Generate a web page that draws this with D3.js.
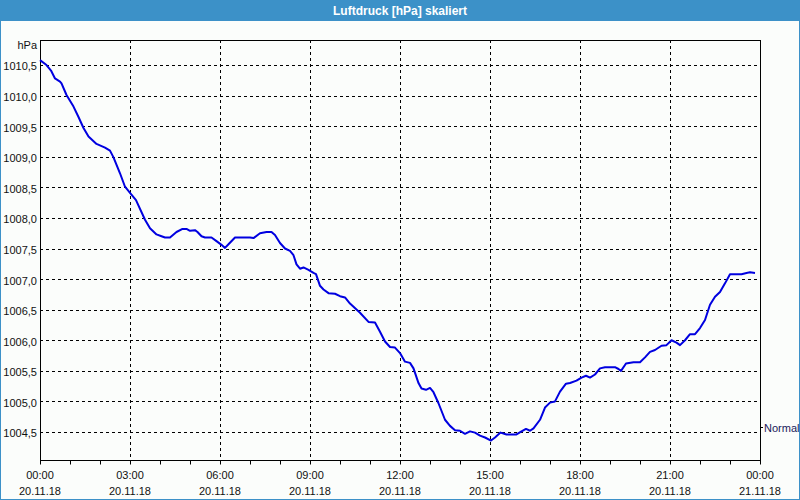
<!DOCTYPE html>
<html><head><meta charset="utf-8">
<script src="https://cdn.jsdelivr.net/npm/d3@7"></script>
<style>
html,body{margin:0;padding:0;background:#fbfdfb;}
svg{display:block;}
text{font-family:"Liberation Sans",Arial,sans-serif;}
</style></head>
<body>
<svg id="chart" width="800" height="500"></svg>
<script>
// minutes since 20.11.18 00:00
const times = [0,13,22,30,40,43,53,67,77,87,97,113,130,140,147,160,170,180,192,210,220,233,243,250,260,273,285,293,300,310,315,323,330,343,353,363,370,377,390,403,420,427,440,453,463,470,480,490,500,507,513,520,527,537,547,552,560,567,577,590,600,610,620,640,657,670,680,690,700,710,720,730,740,747,757,763,772,780,787,797,810,820,830,840,850,860,870,880,890,902,910,921,933,953,963,972,980,987,1000,1010,1020,1030,1040,1052,1060,1073,1083,1092,1100,1110,1120,1130,1150,1157,1162,1172,1187,1200,1210,1220,1230,1243,1253,1263,1273,1280,1290,1300,1310,1320,1330,1340,1350,1360,1370,1380,1387,1403,1413,1420,1430];
const pressure = [1010.58,1010.50,1010.41,1010.28,1010.23,1010.20,1010.01,1009.82,1009.65,1009.47,1009.33,1009.21,1009.15,1009.10,1008.99,1008.73,1008.51,1008.41,1008.29,1007.97,1007.83,1007.73,1007.70,1007.68,1007.68,1007.77,1007.82,1007.82,1007.79,1007.80,1007.77,1007.70,1007.68,1007.68,1007.62,1007.56,1007.51,1007.57,1007.68,1007.68,1007.68,1007.67,1007.75,1007.77,1007.77,1007.72,1007.59,1007.50,1007.46,1007.39,1007.24,1007.17,1007.19,1007.15,1007.10,1007.08,1006.89,1006.83,1006.77,1006.76,1006.72,1006.70,1006.60,1006.45,1006.30,1006.29,1006.14,1005.98,1005.89,1005.88,1005.79,1005.65,1005.63,1005.54,1005.30,1005.21,1005.19,1005.22,1005.15,1004.97,1004.70,1004.60,1004.53,1004.52,1004.47,1004.51,1004.49,1004.44,1004.41,1004.36,1004.41,1004.49,1004.46,1004.46,1004.51,1004.55,1004.52,1004.56,1004.70,1004.90,1004.98,1005.00,1005.16,1005.29,1005.30,1005.34,1005.39,1005.42,1005.39,1005.44,1005.54,1005.56,1005.56,1005.53,1005.50,1005.62,1005.64,1005.64,1005.72,1005.81,1005.84,1005.91,1005.92,1006.00,1005.96,1005.92,1006.00,1006.10,1006.10,1006.20,1006.33,1006.58,1006.71,1006.79,1006.93,1007.08,1007.08,1007.08,1007.10,1007.11,1007.10];
const yTicks = [1004.5,1005.0,1005.5,1006.0,1006.5,1007.0,1007.5,1008.0,1008.5,1009.0,1009.5,1010.0,1010.5];
const xTickHours = [0,3,6,9,12,15,18,21,24];
const normalValue = 1004.58;
const title = "Luftdruck [hPa] skaliert";
const unit = "hPa";

const start = new Date(2018,10,20,0,0);
const end = new Date(2018,10,21,0,0);
const data = times.map((t,i)=>({d:new Date(start.getTime()+t*60000), v:pressure[i]}));

const W=800,H=500, L=40,R=760,T=40,B=460;
const svg = d3.select("#chart");
const blue = "#3c91c8";

svg.append("rect").attr("x",0).attr("y",0).attr("width",W).attr("height",H).attr("fill","#fbfdfb");
svg.append("rect").attr("x",0).attr("y",0).attr("width",W).attr("height",21).attr("fill",blue);
svg.append("rect").attr("x",0).attr("y",21).attr("width",1).attr("height",H-21).attr("fill",blue);
svg.append("rect").attr("x",W-1).attr("y",21).attr("width",1).attr("height",H-21).attr("fill",blue);
svg.append("rect").attr("x",0).attr("y",H-1).attr("width",W).attr("height",1).attr("fill",blue);
svg.append("text").attr("x",400).attr("y",14.5).attr("text-anchor","middle")
  .attr("fill","#fff").attr("font-weight","bold").attr("font-size","12px").text(title);

const x = d3.scaleTime().domain([start,end]).range([L,R]);
const y = d3.scaleLinear().domain([1004.042,1010.909]).range([B,T]);

// grid
const g = svg.append("g");
g.selectAll(".hg").data(yTicks).join("line")
  .attr("x1",L).attr("x2",R)
  .attr("y1",d=>Math.round(y(d))+0.5).attr("y2",d=>Math.round(y(d))+0.5)
  .attr("stroke","#000").attr("stroke-width",1).attr("stroke-dasharray","3,3");
const vt = xTickHours.slice(1,-1).map(h=>new Date(start.getTime()+h*3600000));
g.selectAll(".vg").data(vt).join("line")
  .attr("x1",d=>Math.round(x(d))+0.5).attr("x2",d=>Math.round(x(d))+0.5)
  .attr("y1",T).attr("y2",B)
  .attr("stroke","#000").attr("stroke-width",1).attr("stroke-dasharray","3,3");

// x axis
const fmtT = d3.timeFormat("%H:%M"), fmtD = d3.timeFormat("%d.%m.%y");
const xAxis = d3.axisBottom(x).ticks(d3.timeHour.every(1)).tickSize(4).tickFormat("");
const xa = svg.append("g").attr("transform",`translate(0,${B+0.5})`).call(xAxis);
xa.select(".domain").remove();
xa.selectAll(".tick line").attr("stroke","#000");
const labT = xTickHours.map(h=>new Date(start.getTime()+h*3600000));
const xl = svg.append("g");
xl.selectAll(".t1").data(labT).join("text")
  .attr("x",d=>x(d)).attr("y",479).attr("text-anchor","middle").attr("font-size","11px").attr("fill","#111")
  .text(d=>fmtT(d));
xl.selectAll(".t2").data(labT).join("text")
  .attr("x",d=>x(d)).attr("y",495).attr("text-anchor","middle").attr("font-size","11px").attr("fill","#111")
  .text(d=>fmtD(d));

// y labels
const fmtY = v => d3.format(".1f")(v).replace(".",",");
const ya = svg.append("g").attr("transform",`translate(${L},0)`)
  .call(d3.axisLeft(y).tickValues(yTicks).tickSize(0).tickPadding(3).tickFormat(fmtY));
ya.select(".domain").remove();
ya.selectAll("text").attr("font-size","11px").attr("fill","#111").attr("font-family","Liberation Sans, Arial, sans-serif").attr("dy","0.45em");
svg.append("text").attr("x",37).attr("y",49).attr("text-anchor","end").attr("font-size","11px").attr("fill","#111").text(unit);

// frame
svg.append("rect").attr("x",L+0.5).attr("y",T+0.5).attr("width",R-L).attr("height",B-T)
  .attr("fill","none").attr("stroke","#000").attr("stroke-width",1);

// normal marker
const ny = Math.round(y(normalValue))+0.5;
svg.append("line").attr("x1",R).attr("x2",R+3).attr("y1",ny).attr("y2",ny).attr("stroke","#000");
svg.append("text").attr("x",R+4).attr("y",ny+4).attr("font-size","11px").attr("fill","#1a1a5a").text("Normal");

// line
const line = d3.line().x(d=>x(d.d)).y(d=>y(d.v));
svg.append("path").datum(data).attr("d",line).attr("fill","none")
  .attr("stroke","#0000e0").attr("stroke-width",2).attr("stroke-linejoin","round");
</script>
</body></html>
